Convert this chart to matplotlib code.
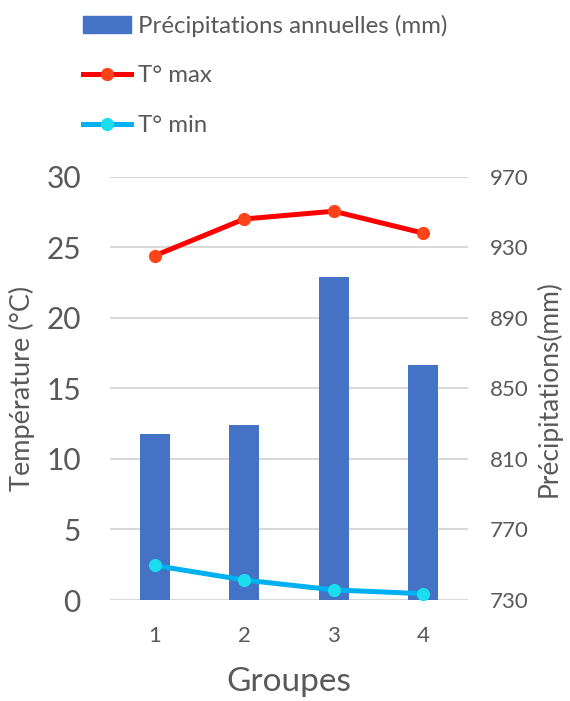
import matplotlib
matplotlib.use('Agg')
from matplotlib import pyplot as plt
from matplotlib.lines import Line2D
from matplotlib.patches import Patch

groupes = [1, 2, 3, 4]
precipitations = [824, 829, 913, 863]
t_max = [24.4, 27.0, 27.55, 26.0]
t_min = [2.45, 1.42, 0.72, 0.45]

temp_ticks = [0, 5, 10, 15, 20, 25, 30]
prec_ticks = [730, 770, 810, 850, 890, 930, 970]

plt.rcParams['font.family'] = ['Lato', 'DejaVu Sans']
text_color = '#595959'

fig = plt.figure(figsize=(5.7, 7.01), dpi=100)
ax = fig.add_axes([0.193, 0.144, 0.628, 0.604])
ax2 = ax.twinx()

# barres : précipitations (axe droit)
ax2.bar(groupes, precipitations, width=0.33, color='#4472C4', zorder=2)
ax2.set_ylim(730, 970)
ax2.set_yticks(prec_ticks)
ax2.grid(axis='y', color='#D9D9D9', linewidth=1.5, zorder=0)
ax2.set_axisbelow(True)

# courbes : températures (axe gauche)
ax.plot(groupes, t_max, color='#FF0000', linewidth=3.6, marker='o',
        markersize=8.5, markerfacecolor='#FF4319', markeredgecolor='#FF4319',
        zorder=3)
ax.plot(groupes, t_min, color='#00B0F0', linewidth=3.6, marker='o',
        markersize=8.5, markerfacecolor='#1BDDF0', markeredgecolor='#1BDDF0',
        zorder=3)
ax.set_ylim(0, 30)
ax.set_yticks(temp_ticks)
ax.set_xlim(0.5, 4.5)
ax.set_xticks(groupes)

ax.set_zorder(ax2.get_zorder() + 1)
ax.patch.set_visible(False)

for a in (ax, ax2):
    for s in a.spines.values():
        s.set_visible(False)

ax.tick_params(axis='y', length=0, pad=21, labelsize=21.5, labelcolor=text_color)
ax.tick_params(axis='x', length=0, pad=19, labelsize=16, labelcolor=text_color)
ax2.tick_params(axis='y', length=0, pad=16, labelsize=16, labelcolor=text_color)

ax.set_ylabel('Température (°C)', fontsize=19.5, color=text_color, labelpad=8)
ax2.set_ylabel('Précipitations(mm)', fontsize=19, color=text_color, labelpad=5)
ax.set_xlabel('Groupes', fontsize=24, color=text_color, labelpad=15)

handles = [
    Patch(color='#4472C4'),
    Line2D([], [], color='#FF0000', linewidth=3.6, marker='o', markersize=8.5,
           markerfacecolor='#FF4319', markeredgecolor='#FF4319'),
    Line2D([], [], color='#00B0F0', linewidth=3.6, marker='o', markersize=8.5,
           markerfacecolor='#1BDDF0', markeredgecolor='#1BDDF0'),
]
labels = ['Précipitations annuelles (mm)', 'T° max', 'T° min']
leg = fig.legend(handles, labels, loc='upper left', bbox_to_anchor=(0.128, 0.993),
                 borderaxespad=0, frameon=False, fontsize=17.3, handlelength=2.0,
                 handletextpad=0.3, labelspacing=1.2, labelcolor=text_color)

fig.savefig('out.png', dpi=100)
